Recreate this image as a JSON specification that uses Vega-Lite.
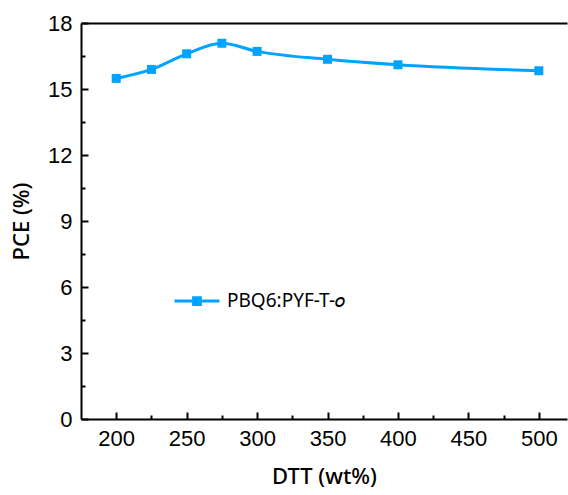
{
  "$schema": "https://vega.github.io/schema/vega-lite/v6.json",
  "width": 486,
  "height": 396,
  "autosize": {"type": "none"},
  "padding": {"left": 81, "top": 23, "right": 1, "bottom": 76},
  "background": "white",
  "config": {
    "view": {"stroke": null},
    "axis": {
      "domainColor": "black",
      "domainWidth": 2,
      "tickColor": "black",
      "tickWidth": 2,
      "labelFont": "Liberation Sans",
      "labelFontSize": 22,
      "labelColor": "black",
      "labelFlush": false,
      "labelOverlap": false,
      "titleFont": "Noto Sans",
      "titleFontSize": 22,
      "titleFontWeight": 500,
      "titleColor": "black",
      "grid": false
    }
  },
  "data": {
    "values": [
      {"dtt": 200, "pce": 15.48, "series": "PBQ6:PYF-T-𝑜"},
      {"dtt": 225, "pce": 15.89, "series": "PBQ6:PYF-T-𝑜"},
      {"dtt": 250, "pce": 16.6, "series": "PBQ6:PYF-T-𝑜"},
      {"dtt": 275, "pce": 17.08, "series": "PBQ6:PYF-T-𝑜"},
      {"dtt": 300, "pce": 16.71, "series": "PBQ6:PYF-T-𝑜"},
      {"dtt": 350, "pce": 16.35, "series": "PBQ6:PYF-T-𝑜"},
      {"dtt": 400, "pce": 16.1, "series": "PBQ6:PYF-T-𝑜"},
      {"dtt": 500, "pce": 15.83, "series": "PBQ6:PYF-T-𝑜"}
    ]
  },
  "encoding": {
    "y": {
      "field": "pce",
      "type": "quantitative",
      "scale": {"domain": [0, 18], "nice": false, "zero": false},
      "axis": {
        "title": "PCE (%)",
        "values": [0, 1.5, 3, 4.5, 6, 7.5, 9, 10.5, 12, 13.5, 15, 16.5, 18],
        "labelExpr": "datum.value % 3 === 0 ? datum.label : ''",
        "tickSize": {"condition": {"test": "datum.value % 3 === 0", "value": -7}, "value": -4},
        "labelPadding": 16,
        "titlePadding": 14
      }
    }
  },
  "layer": [
    {
      "mark": {"type": "line", "interpolate": "monotone", "strokeWidth": 3},
      "encoding": {
        "x": {
          "field": "dtt",
          "type": "quantitative",
          "scale": {"domain": [175, 520], "nice": false, "zero": false},
          "axis": {
            "title": "DTT (wt%)",
            "values": [200, 225, 250, 275, 300, 325, 350, 375, 400, 425, 450, 475, 500],
            "labelExpr": "datum.value % 50 === 0 ? datum.label : ''",
            "tickSize": {"condition": {"test": "datum.value % 50 === 0", "value": -7}, "value": -4},
            "labelPadding": 16,
            "titlePadding": 14
          }
        },
        "color": {
          "field": "series",
          "type": "nominal",
          "scale": {"range": ["#00A3FF"]},
          "legend": {
            "title": null,
            "orient": "none",
            "legendX": 92,
            "legendY": 254,
            "symbolType": "M-1,0H1M-0.15,-0.15H0.15V0.15H-0.15Z",
            "symbolSize": 2025,
            "symbolStrokeWidth": 3,
            "symbolFillColor": "#00A3FF",
            "symbolStrokeColor": "#00A3FF",
            "labelFont": "Noto Sans",
            "labelFontSize": 19,
            "labelColor": "black",
            "labelLimit": 300,
            "labelOffset": 6
          }
        }
      }
    },
    {
      "mark": {"type": "point", "shape": "square", "filled": true, "size": 81, "color": "#00A3FF", "opacity": 1},
      "encoding": {
        "x": {
          "field": "dtt",
          "type": "quantitative",
          "scale": {"domain": [175, 520], "nice": false, "zero": false},
          "axis": {"orient": "top", "labels": false, "ticks": false, "title": null, "domain": true}
        }
      }
    }
  ],
  "resolve": {"axis": {"x": "independent"}}
}
